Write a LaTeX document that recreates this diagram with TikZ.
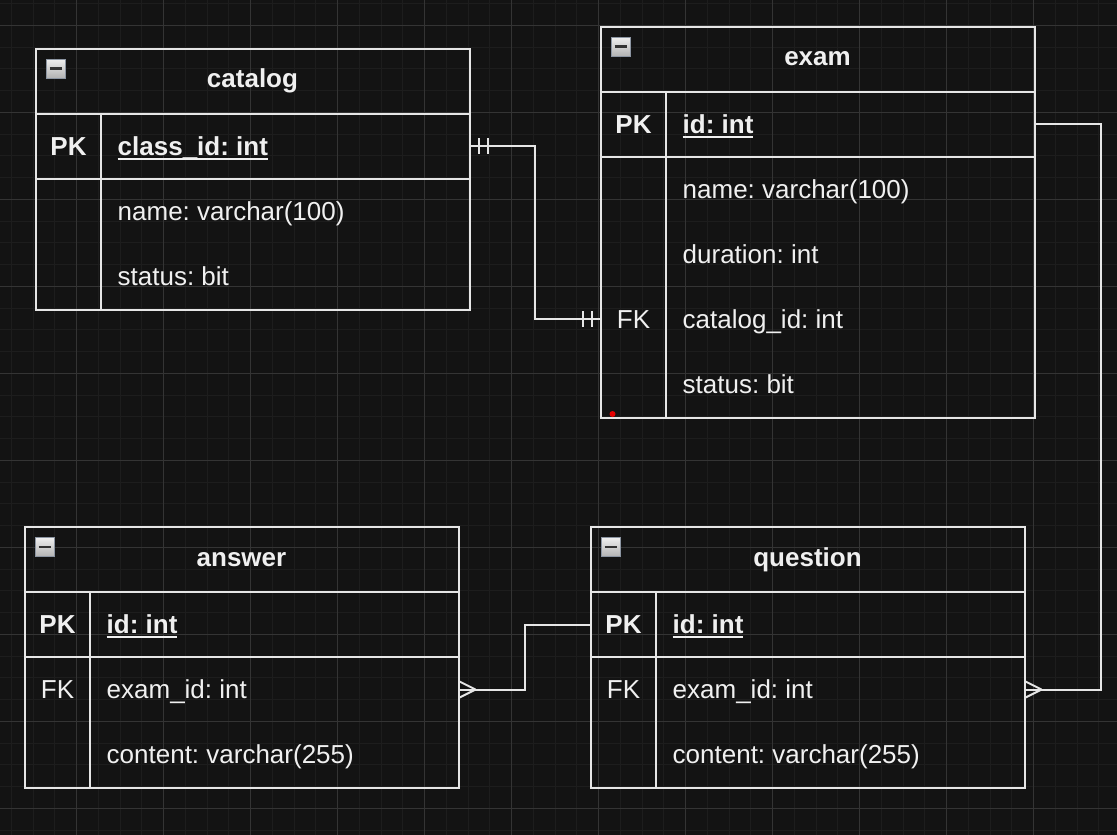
\documentclass[tikz,border=0pt]{standalone}
\usepackage{fontspec}
\setmainfont{Liberation Sans}
\usetikzlibrary{positioning}
\definecolor{bgc}{HTML}{131313}
\definecolor{minorc}{HTML}{1D1D1D}
\definecolor{majorc}{HTML}{343434}
\definecolor{linec}{HTML}{E6E6E6}
\definecolor{txtc}{HTML}{F0F0F0}
\definecolor{iconc}{HTML}{8C95A2}
\newcommand\tblfont{\fontsize{26}{31}\selectfont\frenchspacing}
\newcommand\pkfield[1]{\setbox0=\hbox{#1}\rlap{\rule[-4.3pt]{\wd0}{2pt}}\box0}

\begin{document}
\begin{tikzpicture}[x=1pt, y=-1pt, text=txtc, font=\tblfont]
    \tikzset{part/.style = {draw=linec, line width=2pt, minimum width=434pt, inner sep=0pt, outer sep=0pt},
      head/.style = {part, minimum height=65pt, font=\tblfont\bfseries},
      keyrow/.style = {part, minimum height=65pt},
      body/.style = {part, minimum height=#1},
      split/.style = {draw=linec, line width=2pt},
      keylbl/.style = {inner sep=0pt, text height=18.6pt, text depth=0pt},
      fld/.style = {keylbl, anchor=west},
      icon/.style = {anchor=north west, minimum size=19pt, inner sep=0pt, draw=iconc, line width=1pt,
        top color=gray!12, bottom color=gray!60,
        path picture={\draw[black!80, line width=2.5pt] ([xshift=3.5pt]path picture bounding box.west) -- ([xshift=-3.5pt]path picture bounding box.east);}},
      rel/.style = {draw=linec, line width=2pt}}
    \useasboundingbox (0,0) rectangle (1117,835);
    \fill[bgc] (0,0) rectangle (1117,835);
    %% grid
    \foreach \x in {11.3,33.05,...,1117} \draw[minorc, line width=1pt] (\x,0) -- (\x,835);
    \foreach \y in {3.55,25.3,...,835} \draw[minorc, line width=1pt] (0,\y) -- (1117,\y);
    \foreach \x in {76.3,163.3,...,1117} \draw[majorc, line width=1pt] (\x,0) -- (\x,835);
    \foreach \y in {25.3,112.3,...,835} \draw[majorc, line width=1pt] (0,\y) -- (1117,\y);
    %% catalog
    \node[head, anchor=north west] (cath) at (35.5,48.5) {catalog};
    \node[keyrow, below = 0pt of cath] (catk) {};
    \node[body=131pt, below = 0pt of catk] (catb) {};
    \node[icon] at ([shift={(10pt,-10pt)}]cath.north west) {};
    \draw[split] ([xshift=65.5pt]catk.north west) -- ([xshift=65.5pt]catb.south west);
    \node[keylbl, font=\tblfont\bfseries] (catpk) at ([xshift=33pt]catk.west) {PK};
    \node[fld, font=\tblfont\bfseries] at ([xshift=82pt]catk.west) {\pkfield{class\_id: int}};
    \node[fld] at ([shift={(82pt,-32.5pt)}]catb.north west) {name: varchar(100)};
    \node[fld] at ([shift={(82pt,-97.5pt)}]catb.north west) {status: bit};
    %% exam
    \node[head, anchor=north west] (exh) at (600.5,26.5) {exam};
    \node[keyrow, below = 0pt of exh] (exk) {};
    \node[body=261pt, below = 0pt of exk] (exb) {};
    \node[icon] at ([shift={(10pt,-10pt)}]exh.north west) {};
    \draw[split] ([xshift=65.5pt]exk.north west) -- ([xshift=65.5pt]exb.south west);
    \node[keylbl, font=\tblfont\bfseries] (expk) at ([xshift=33pt]exk.west) {PK};
    \node[fld, font=\tblfont\bfseries] at ([xshift=82pt]exk.west) {\pkfield{id: int}};
    \node[fld] at ([shift={(82pt,-32.5pt)}]exb.north west) {name: varchar(100)};
    \node[fld] at ([shift={(82pt,-97.5pt)}]exb.north west) {duration: int};
    \node[keylbl] (exfk) at ([shift={(33pt,-162.5pt)}]exb.north west) {FK};
    \node[fld] at ([shift={(82pt,-162.5pt)}]exb.north west) {catalog\_id: int};
    \node[fld] at ([shift={(82pt,-227.5pt)}]exb.north west) {status: bit};
    \fill[red!90!black] ([shift={(12pt,3.5pt)}]exb.south west) circle[radius=3pt];
    %% answer
    \node[head, anchor=north west] (anh) at (24.5,527) {answer};
    \node[keyrow, below = 0pt of anh] (ank) {};
    \node[body=131pt, below = 0pt of ank] (anb) {};
    \node[icon] at ([shift={(10pt,-10pt)}]anh.north west) {};
    \draw[split] ([xshift=65.5pt]ank.north west) -- ([xshift=65.5pt]anb.south west);
    \node[keylbl, font=\tblfont\bfseries] (anpk) at ([xshift=33pt]ank.west) {PK};
    \node[fld, font=\tblfont\bfseries] at ([xshift=82pt]ank.west) {\pkfield{id: int}};
    \node[keylbl] (anfk) at ([shift={(33pt,-32.5pt)}]anb.north west) {FK};
    \node[fld] at ([shift={(82pt,-32.5pt)}]anb.north west) {exam\_id: int};
    \node[fld] at ([shift={(82pt,-97.5pt)}]anb.north west) {content: varchar(255)};
    %% question
    \node[head, anchor=north west] (quh) at (590.5,527) {question};
    \node[keyrow, below = 0pt of quh] (quk) {};
    \node[body=131pt, below = 0pt of quk] (qub) {};
    \node[icon] at ([shift={(10pt,-10pt)}]quh.north west) {};
    \draw[split] ([xshift=65.5pt]quk.north west) -- ([xshift=65.5pt]qub.south west);
    \node[keylbl, font=\tblfont\bfseries] (qupk) at ([xshift=33pt]quk.west) {PK};
    \node[fld, font=\tblfont\bfseries] at ([xshift=82pt]quk.west) {\pkfield{id: int}};
    \node[keylbl] (qufk) at ([shift={(33pt,-32.5pt)}]qub.north west) {FK};
    \node[fld] at ([shift={(82pt,-32.5pt)}]qub.north west) {exam\_id: int};
    \node[fld] at ([shift={(82pt,-97.5pt)}]qub.north west) {content: varchar(255)};
    %% relations
    \coordinate (exin) at (exb.west |- exfk);
    \coordinate (quin) at (qub.east |- qufk);
    \coordinate (anin) at (anb.east |- anfk);
    \draw[rel] (catk.east) -- ++(65.5,0) |- (exin);
    \foreach \d in {9,18} \draw[rel] ([xshift=\d pt]catk.east) ++(0,-8) -- ++(0,16);
    \foreach \d in {9,18} \draw[rel] ([xshift=-\d pt]exin) ++(0,-8) -- ++(0,16);
    \draw[rel] (exk.east) -- ++(66,0) |- (quin);
    \draw[rel] ([xshift=17pt]quin) -- ++(-17,-8.5) ([xshift=17pt]quin) -- ++(-17,8.5);
    \draw[rel] (quk.west) -- ++(-65.5,0) |- (anin);
    \draw[rel] ([xshift=17pt]anin) -- ++(-17,-8.5) ([xshift=17pt]anin) -- ++(-17,8.5);
\end{tikzpicture}
\end{document}
